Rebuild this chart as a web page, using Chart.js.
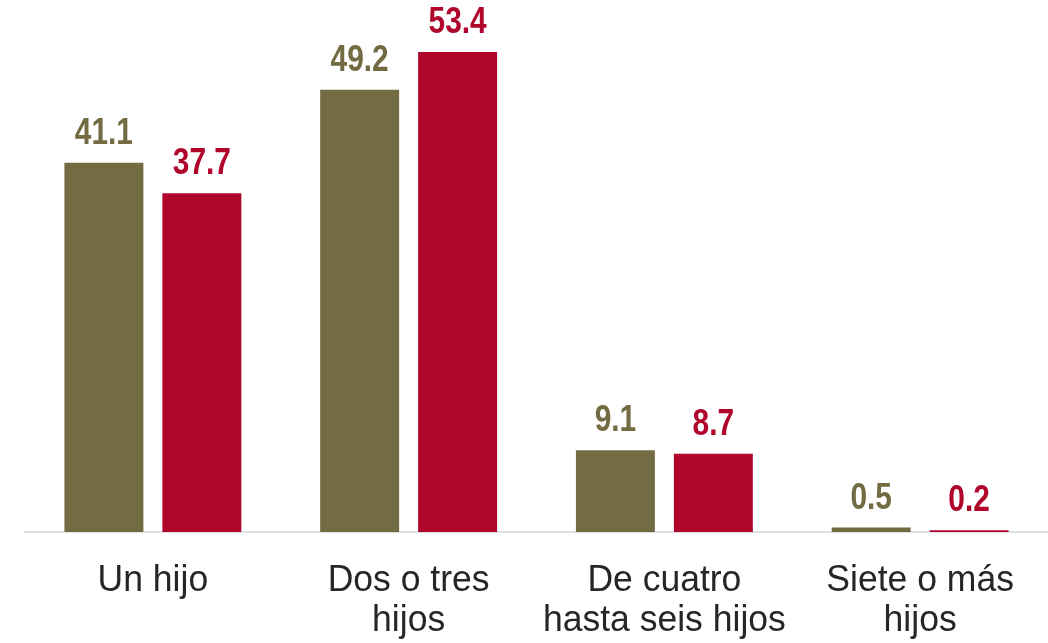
<!DOCTYPE html>
<html>
<head>
<meta charset="utf-8">
<script src="https://cdn.jsdelivr.net/npm/chart.js@4"></script>
<style>
  html, body { margin: 0; padding: 0; background: #fff; }
  #wrap { width: 1048px; height: 643px; }
</style>
</head>
<body>
<div id="wrap"><canvas id="chart"></canvas></div>
<script>
// Data
const categories = [
    ['Un hijo'],
    ['Dos o tres', 'hijos'],
    ['De cuatro', 'hasta seis hijos'],
    ['Siete o más', 'hijos']
];
const seriesA = [41.1, 49.2, 9.1, 0.5];
const seriesB = [37.7, 53.4, 8.7, 0.2];

const colorA = '#736b41';
const colorB = '#b0062c';
const fontFamily = '"Liberation Sans", Arial, sans-serif';

// draw text squeezed horizontally (the original uses a narrow face)
function narrowText(ctx, text, x, y, sx) {
    ctx.save();
    ctx.translate(x, y);
    ctx.scale(sx, 1);
    ctx.fillText(text, 0, 0);
    ctx.restore();
}

// Value labels above each bar
const valueLabels = {
    id: 'valueLabels',
    afterDatasetsDraw(chart) {
        const ctx = chart.ctx;
        ctx.save();
        ctx.font = 'bold 36px ' + fontFamily;
        ctx.textAlign = 'center';
        ctx.textBaseline = 'alphabetic';
        chart.data.datasets.forEach((ds, i) => {
            const meta = chart.getDatasetMeta(i);
            ctx.fillStyle = ds.backgroundColor;
            meta.data.forEach((bar, j) => {
                narrowText(ctx, ds.data[j].toFixed(1), bar.x, bar.y - 19, 0.83);
            });
        });
        ctx.restore();
    }
};

// Category labels under the axis
const categoryLabels = {
    id: 'categoryLabels',
    afterDraw(chart) {
        const ctx = chart.ctx;
        const xScale = chart.scales.x;
        const base = chart.chartArea.bottom;
        ctx.save();
        ctx.font = '37px ' + fontFamily;
        ctx.fillStyle = '#262626';
        ctx.textAlign = 'center';
        ctx.textBaseline = 'alphabetic';
        chart.data.labels.forEach((lines, i) => {
            const x = xScale.getPixelForValue(i);
            lines.forEach((line, k) => {
                narrowText(ctx, line, x, base + 59 + k * 40, 0.96);
            });
        });
        ctx.restore();
    }
};

new Chart(document.getElementById('chart').getContext('2d'), {
    type: 'bar',
    data: {
        labels: categories,
        datasets: [
            { label: 'A', data: seriesA, backgroundColor: colorA },
            { label: 'B', data: seriesB, backgroundColor: colorB }
        ]
    },
    options: {
        responsive: true,
        maintainAspectRatio: false,
        animation: false,
        layout: { padding: { left: 25, right: 0, top: 0, bottom: 0 } },
        plugins: {
            legend: { display: false },
            tooltip: { enabled: false }
        },
        datasets: {
            bar: { categoryPercentage: 0.766, barPercentage: 0.806 }
        },
        scales: {
            x: {
                grid: { display: false },
                border: { display: true, color: '#dde0e4', width: 2 },
                ticks: { display: false },
                afterFit(scale) { scale.height = 111; }
            },
            y: {
                display: false,
                min: 0,
                max: 59.2
            }
        }
    },
    plugins: [valueLabels, categoryLabels]
});
</script>
</body>
</html>
